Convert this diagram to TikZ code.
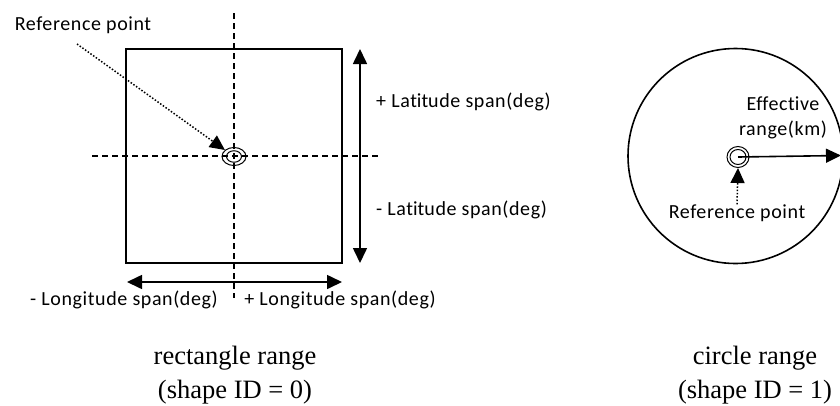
\documentclass[tikz,border=0pt]{standalone}
\usepackage{fontspec}
\setmainfont{Liberation Serif}
\newfontfamily\calib[LetterSpace=3,Ligatures={NoCommon,NoRequired,NoContextual}]{Carlito}
\newcommand\nolig{\kern0pt }
\usetikzlibrary{arrows.meta,shapes.geometric}
\begin{document}
\begin{tikzpicture}[x=1pt,y=-1pt,
  lbl/.style={font=\calib\fontsize{20}{24}\selectfont, inner sep=0pt},
  captext/.style={font=\fontsize{26.5}{31}\selectfont, inner sep=0pt},
  solidline/.style={line width=1.6pt},
  dline/.style={line width=1.2pt, dash pattern=on 6pt off 4pt},
  tip/.style={-{Triangle[width=14pt,length=15pt]}},
  dtips/.style={{Triangle[width=14pt,length=15pt]}-{Triangle[width=14pt,length=15pt]}},
  dotarrow/.style={line width=1.5pt, dash pattern=on 1.5pt off 1.8pt, -{Triangle[width=14pt,length=15pt]}},
  ringout/.style={ellipse, draw, line width=1pt, inner sep=0pt},
]
\useasboundingbox (0,0) rectangle (840,405);
% ---------- rectangle range ----------
\node[draw, solidline, minimum width=216pt, minimum height=214pt, inner sep=0pt] (rect) at (234,156) {};
\coordinate (vtop) at (234,13);
\coordinate (vbot) at (234,298);
\coordinate (hl) at (92,156);
\coordinate (hr) at (378,156);
\draw[dline] (vtop) -- (vbot);
\draw[dline] (hl) -- (hr);
\node[ringout, minimum width=24pt, minimum height=18pt] (rp1) at (234,156.5) {};
\node[ringout, minimum width=15pt, minimum height=11.5pt] (rp1in) at (234,156.5) {};
\node[lbl] (reflbl1) at (83,25) {Reference point};
\coordinate (refstart1) at (77,44);
\draw[dotarrow] (refstart1) -- (rp1);
% latitude arrow
\coordinate (latT) at (360,49);
\coordinate (latB) at (360,263);
\draw[solidline, dtips] (latT) -- (latB);
\node[lbl, anchor=west] (latp) at (376,102) {+ Lat\nolig i\nolig t\nolig ude span(deg)};
\node[lbl, anchor=west] (latm) at (376,210) {- Lat\nolig i\nolig t\nolig ude span(deg)};
% longitude arrow
\coordinate (lonL) at (127,282);
\coordinate (lonR) at (342,282);
\draw[solidline, dtips] (lonL) -- (lonR);
\node[lbl] (lonm) at (124,300) {- Longitude span(deg)};
\node[lbl] (lonp) at (340,300) {+ Longitude span(deg)};
\node[captext, align=center] (cap1) at (235,375) {rectangle range\\[3pt](shape ID = 0)};
% ---------- circle range ----------
\node[circle, draw, solidline, minimum size=215pt, inner sep=0pt] (circ) at (735.5,156) {};
\node[ringout, minimum width=22pt, minimum height=21pt] (rp2) at (738,157) {};
\node[ringout, minimum width=16pt, minimum height=15pt] (rp2in) at (738,157) {};
\coordinate (effend) at (841,155.5);
\draw[solidline, tip] (rp2.center) -- (effend);
\node[lbl, align=center] (eff) at (783,118) {Ef\nolig f\nolig ect\nolig ive\\[1pt]range(km)};
\node[lbl] (reflbl2) at (737,213) {Reference point};
\draw[dotarrow] (reflbl2.north) -- (rp2.south);
\node[captext, align=center] (cap2) at (755,375) {circle range\\[3pt](shape ID = 1)};
\end{tikzpicture}
\end{document}
